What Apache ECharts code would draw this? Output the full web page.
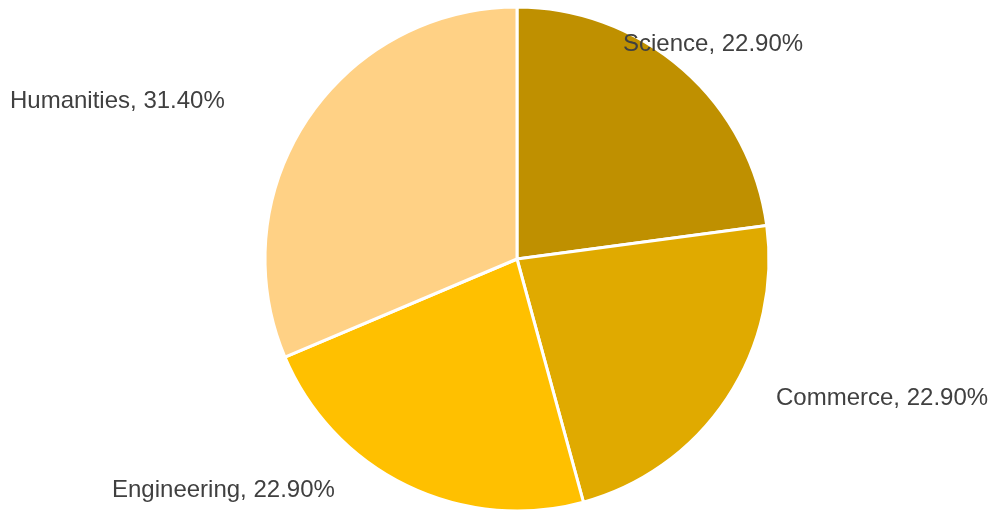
<!DOCTYPE html>
<html>
<head>
<meta charset="utf-8">
<script src="https://cdn.jsdelivr.net/npm/echarts@6/dist/echarts.min.js"></script>
<style>
html,body{margin:0;padding:0;background:#fff;}
#chart{width:993px;height:510px;}
</style>
</head>
<body>
<div id="chart"></div>
<script>
var categories = ['Science', 'Commerce', 'Engineering', 'Humanities'];
var values = [22.9, 22.9, 22.9, 31.4];
var colors = ['#BF9000', '#E0AA00', '#FFC000', '#FFD185'];
// label anchor positions (left edge x, vertical middle y)
var labelPos = [[623, 44], [776, 398], [112, 490], [10, 101]];

var chart = echarts.init(document.getElementById('chart'), null, {renderer: 'canvas'});
var data = categories.map(function (c, i) {
  return {name: c, value: values[i], itemStyle: {color: colors[i]}};
});
chart.setOption({
  animation: false,
  backgroundColor: '#ffffff',
  series: [{
    type: 'pie',
    center: [517, 259],
    radius: [0, 252],
    startAngle: 90,
    clockwise: true,
    data: data,
    itemStyle: {borderColor: '#ffffff', borderWidth: 3},
    label: {
      show: true,
      position: 'outside',
      overflow: 'none',
      width: 400,
      formatter: function (p) { return p.name + ', ' + p.value.toFixed(2) + '%'; },
      fontFamily: 'Liberation Sans, Arial, sans-serif',
      fontSize: 24,
      color: '#404040'
    },
    labelLine: {show: false},
    labelLayout: function (params) {
      var p = labelPos[params.dataIndex];
      return {x: p[0], y: p[1], align: 'left', verticalAlign: 'middle'};
    },
    emphasis: {disabled: true}
  }]
});
</script>
</body>
</html>
